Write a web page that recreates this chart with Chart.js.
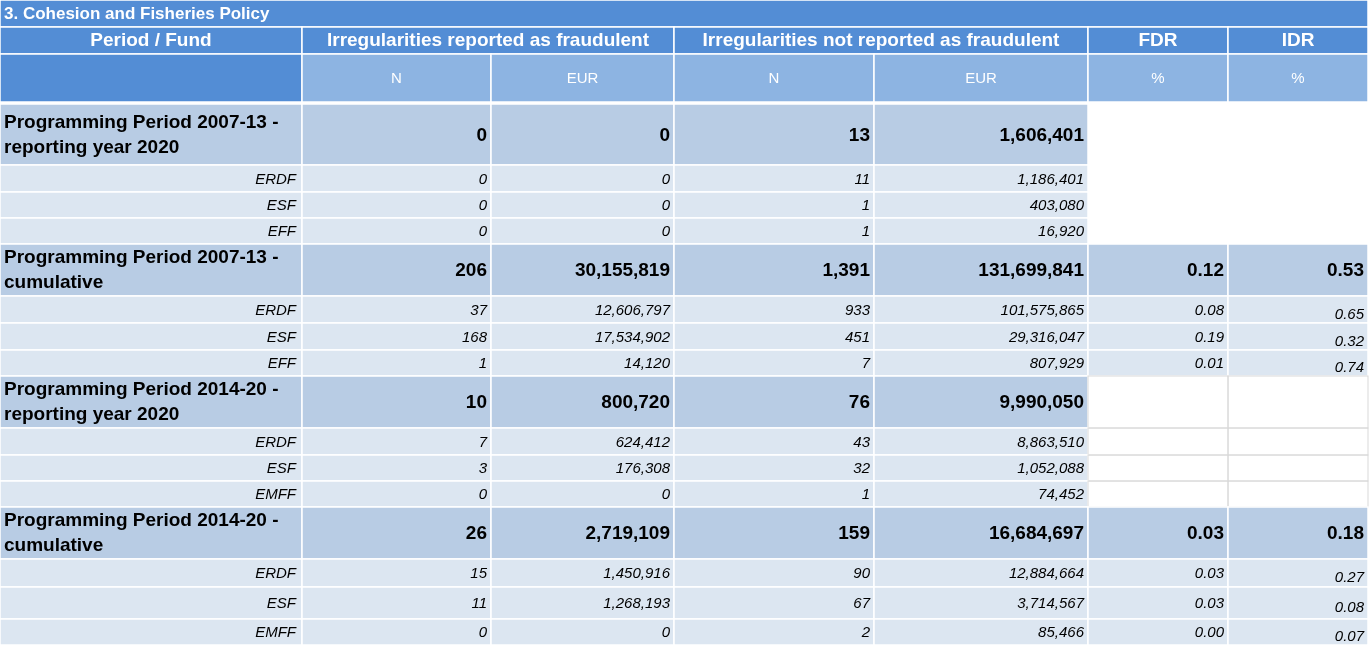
<!DOCTYPE html>
<html>
<head>
<meta charset="utf-8">
<script src="https://cdn.jsdelivr.net/npm/chart.js@4"></script>
<style>
  body { margin: 0; background: #fff; }
  #wrap { width: 1370px; height: 647px; }
</style>
</head>
<body>
<div id="wrap"><canvas id="tableChart" width="1370" height="647"></canvas></div>
<script>
const tableTitle = "3. Cohesion and Fisheries Policy";
const headerTop = ["Period / Fund", "Irregularities reported as fraudulent", "Irregularities not reported as fraudulent", "FDR", "IDR"];
const headerSub = ["", "N", "EUR", "N", "EUR", "%", "%"];

const rowLabels = [
  "Programming Period 2007-13 -\nreporting year 2020", "ERDF", "ESF", "EFF",
  "Programming Period 2007-13 -\ncumulative", "ERDF", "ESF", "EFF",
  "Programming Period 2014-20 -\nreporting year 2020", "ERDF", "ESF", "EMFF",
  "Programming Period 2014-20 -\ncumulative", "ERDF", "ESF", "EMFF"
];
const isGroupRow = [true, false, false, false, true, false, false, false, true, false, false, false, true, false, false, false];
const fraudN = [0, 0, 0, 0, 206, 37, 168, 1, 10, 7, 3, 0, 26, 15, 11, 0];
const fraudEur = [0, 0, 0, 0, 30155819, 12606797, 17534902, 14120, 800720, 624412, 176308, 0, 2719109, 1450916, 1268193, 0];
const nonFraudN = [13, 11, 1, 1, 1391, 933, 451, 7, 76, 43, 32, 1, 159, 90, 67, 2];
const nonFraudEur = [1606401, 1186401, 403080, 16920, 131699841, 101575865, 29316047, 807929, 9990050, 8863510, 1052088, 74452, 16684697, 12884664, 3714567, 85466];
const fdr = [null, null, null, null, 0.12, 0.08, 0.19, 0.01, null, null, null, null, 0.03, 0.03, 0.03, 0.00];
const idr = [null, null, null, null, 0.53, 0.65, 0.32, 0.74, null, null, null, null, 0.18, 0.27, 0.08, 0.07];

// layout (pixel units on the hidden linear scales)
const colEdges = [0, 302, 491, 674, 874, 1088, 1228, 1368];
const headEdges = [0, 27, 54, 102];
const rowEdges = [104, 165, 192, 218, 244, 296, 323, 350, 376, 428, 455, 481, 507, 559, 587, 619, 645];

const C_DARK = "#538dd5";
const C_MID = "#8db4e2";
const C_GROUP = "#b8cce4";
const C_SUB = "#dce6f1";

function fmt(v) {
  return Number(v).toLocaleString("en-US");
}

const tablePlugin = {
  id: "tablePlugin",
  afterDraw(chart) {
    const ctx = chart.ctx;
    const xs = chart.scales.x;
    const ys = chart.scales.y;
    const X = (v) => xs.getPixelForValue(v);
    const Y = (v) => ys.getPixelForValue(v);

    function cell(x0, x1, y0, y1, fill) {
      ctx.fillStyle = fill;
      ctx.fillRect(X(x0), Y(y0), X(x1) - X(x0), Y(y1) - Y(y0));
      ctx.strokeStyle = "#ffffff";
      ctx.lineWidth = 1.5;
      ctx.strokeRect(X(x0), Y(y0), X(x1) - X(x0), Y(y1) - Y(y0));
    }
    function text(str, x, y, font, color, align, base) {
      ctx.font = font;
      ctx.fillStyle = color;
      ctx.textAlign = align;
      ctx.textBaseline = base || "middle";
      ctx.fillText(str, x, y);
    }

    ctx.save();
    // title
    cell(0, 1368, headEdges[0], headEdges[1], C_DARK);
    text(tableTitle, X(4), Y(14), "bold 17px 'Liberation Sans', Arial", "#fff", "left");

    // header row 1
    const topSpans = [[0, 1], [1, 3], [3, 5], [5, 6], [6, 7]];
    topSpans.forEach((s, i) => {
      const a = colEdges[s[0]], b = colEdges[s[1]];
      cell(a, b, headEdges[1], headEdges[2], C_DARK);
      text(headerTop[i], X((a + b) / 2), Y(41), "bold 19px 'Liberation Sans', Arial", "#fff", "center");
    });
    // header row 2
    for (let c = 0; c < 7; c++) {
      cell(colEdges[c], colEdges[c + 1], headEdges[2], headEdges[3], c === 0 ? C_DARK : C_MID);
      text(headerSub[c], X((colEdges[c] + colEdges[c + 1]) / 2), Y(79), "15px 'Liberation Sans', Arial", "#fff", "center");
    }

    // body
    rowLabels.forEach((label, r) => {
      const y0 = rowEdges[r], y1 = rowEdges[r + 1];
      const g = isGroupRow[r];
      const fill = g ? C_GROUP : C_SUB;
      const mid = (y0 + y1) / 2;
      const valFont = g ? "bold 19px 'Liberation Sans', Arial" : "italic 15px 'Liberation Sans', Arial";
      const vals = [fraudN[r], fraudEur[r], nonFraudN[r], nonFraudEur[r]];

      for (let c = 0; c < 5; c++) cell(colEdges[c], colEdges[c + 1], y0, y1, fill);

      if (g) {
        const lines = label.split("\n");
        text(lines[0], X(4), Y(mid - 12), "bold 19px 'Liberation Sans', Arial", "#000", "left");
        text(lines[1], X(4), Y(mid + 13), "bold 19px 'Liberation Sans', Arial", "#000", "left");
      } else {
        text(label, X(296), Y(mid + 1), valFont, "#000", "right");
      }
      vals.forEach((v, i) => {
        text(fmt(v), X(colEdges[i + 2] - 4), Y(mid + 1), valFont, "#000", "right");
      });

      if (fdr[r] !== null) {
        cell(colEdges[5], colEdges[6], y0, y1, fill);
        cell(colEdges[6], colEdges[7], y0, y1, fill);
        text(fdr[r].toFixed(2), X(colEdges[6] - 4), Y(mid + 1), valFont, "#000", "right");
        text(idr[r].toFixed(2), X(colEdges[7] - 4), Y(g ? mid + 1 : mid + 5), valFont, "#000", "right");
      } else if (r >= 8) {
        ctx.strokeStyle = "#d9d9d9";
        ctx.lineWidth = 1;
        ctx.strokeRect(X(colEdges[5]), Y(y0), X(colEdges[6]) - X(colEdges[5]), Y(y1) - Y(y0));
        ctx.strokeRect(X(colEdges[6]), Y(y0), X(colEdges[7]) - X(colEdges[6]), Y(y1) - Y(y0));
      }
    });
    ctx.restore();
  }
};

new Chart(document.getElementById("tableChart"), {
  type: "scatter",
  data: { datasets: [{ data: [] }] },
  options: {
    responsive: false,
    animation: false,
    devicePixelRatio: 1,
    layout: { padding: 0 },
    plugins: { legend: { display: false }, tooltip: { enabled: false } },
    scales: {
      x: { type: "linear", min: 0, max: 1370, display: false },
      y: { type: "linear", min: 0, max: 647, reverse: true, display: false }
    }
  },
  plugins: [tablePlugin]
});
</script>
</body>
</html>
